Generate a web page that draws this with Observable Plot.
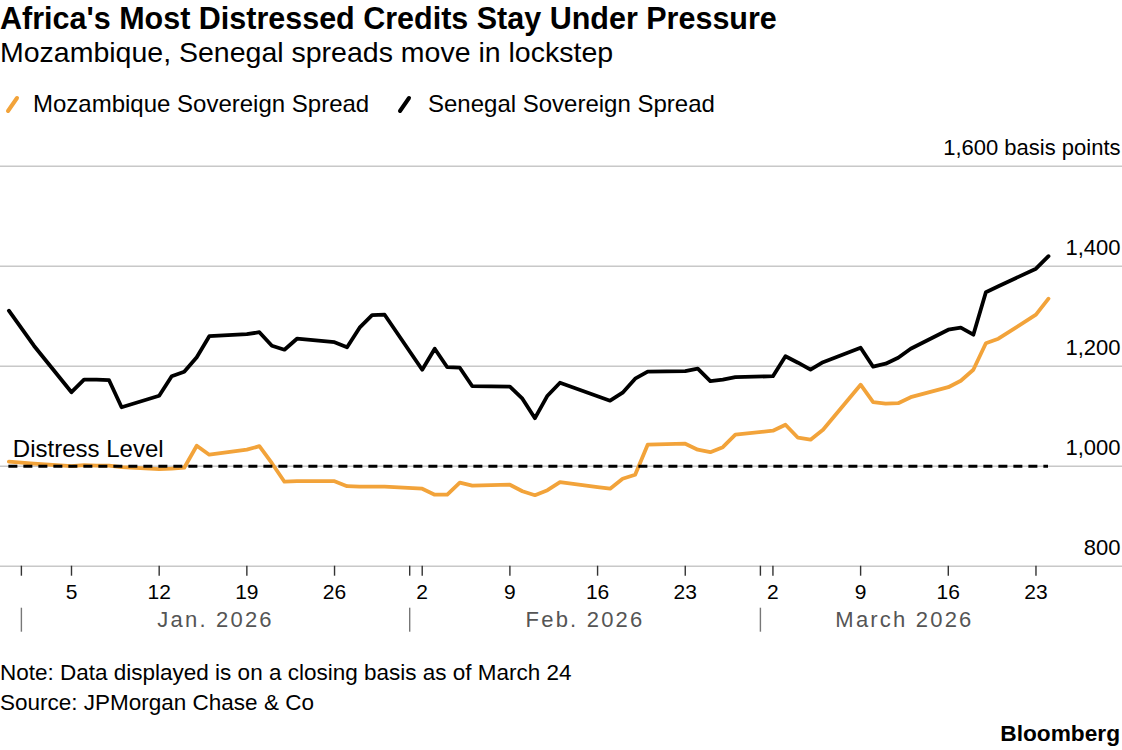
<!DOCTYPE html>
<html><head><meta charset="utf-8">
<script src="https://cdn.jsdelivr.net/npm/d3@7"></script>
<script src="https://cdn.jsdelivr.net/npm/@observablehq/plot@0.6"></script>
<style>
body{margin:0;background:#fff;font-family:"Liberation Sans",Arial,sans-serif;color:#000;}
#wrap{position:relative;width:1122px;height:750px;overflow:hidden;background:#fff;}
.t{position:absolute;white-space:nowrap;line-height:1;}
#title{left:0;top:3px;font-size:30.5px;font-weight:bold;}
#sub{left:0;top:38px;font-size:28.5px;}
.lg{top:92px;font-size:24px;}
.mk{position:absolute;top:95px;}
#note{left:0;top:662px;font-size:22.5px;}
#source{left:0;top:692px;font-size:22.5px;}
#brand{right:2px;top:722px;font-size:22.7px;font-weight:bold;}
#chart{position:absolute;left:0;top:130px;}
</style></head>
<body><div id="wrap">
<div class="t" id="title">Africa's Most Distressed Credits Stay Under Pressure</div>
<div class="t" id="sub">Mozambique, Senegal spreads move in lockstep</div>
<svg class="mk" style="left:5px" width="16" height="19"><line x1="3" y1="16" x2="12" y2="3" stroke="#f2a33a" stroke-width="4" stroke-linecap="round"/></svg>
<div class="t lg" style="left:33px">Mozambique Sovereign Spread</div>
<svg class="mk" style="left:397px" width="16" height="19"><line x1="3" y1="16" x2="12" y2="3" stroke="#000" stroke-width="4" stroke-linecap="round"/></svg>
<div class="t lg" style="left:428px">Senegal Sovereign Spread</div>
<div id="chart"></div>
<div class="t" id="note">Note: Data displayed is on a closing basis as of March 24</div>
<div class="t" id="source">Source: JPMorgan Chase &amp; Co</div>
<div class="t" id="brand">Bloomberg</div>
</div>
<script>
const dates = ["2025-12-31","2026-01-02","2026-01-05","2026-01-06","2026-01-07","2026-01-08","2026-01-09",
"2026-01-12","2026-01-13","2026-01-14","2026-01-15","2026-01-16","2026-01-19","2026-01-20","2026-01-21","2026-01-22","2026-01-23",
"2026-01-26","2026-01-27","2026-01-28","2026-01-29","2026-01-30","2026-02-02","2026-02-03","2026-02-04","2026-02-05","2026-02-06",
"2026-02-09","2026-02-10","2026-02-11","2026-02-12","2026-02-13","2026-02-16","2026-02-17","2026-02-18","2026-02-19","2026-02-20",
"2026-02-23","2026-02-24","2026-02-25","2026-02-26","2026-02-27","2026-03-02","2026-03-03","2026-03-04","2026-03-05","2026-03-06",
"2026-03-09","2026-03-10","2026-03-11","2026-03-12","2026-03-13","2026-03-16","2026-03-17","2026-03-18","2026-03-19","2026-03-20",
"2026-03-23","2026-03-24"];
const senegal = [1311,1241,1148,1173,1173,1172,1118,
1141,1180,1189,1218,1260,1264,1268,1241,1233,1255,
1248,1238,1277,1302,1303,1193,1235,1198,1197,1160,
1159,1135,1096,1141,1167,1140,1131,1147,1175,1189,
1190,1195,1170,1173,1178,1180,1220,1207,1193,1208,
1237,1199,1205,1217,1235,1273,1277,1263,1348,1360,
1395,1420];
const mozambique = [1009,1005,1000,1002,1001,1001,998,
994,995,997,1041,1023,1033,1040,1006,969,970,
970,960,959,959,959,955,943,943,967,961,
963,950,942,952,968,958,955,975,983,1043,
1045,1033,1028,1038,1063,1071,1083,1057,1053,1073,
1163,1128,1125,1126,1138,1158,1171,1193,1246,1255,
1303,1335];
const yTicks = [800,1000,1200,1400,1600];
const yTopLabel = "1,600 basis points";
const distressLevel = 1000;
const distressLabel = "Distress Level";
const monthLabels = ["Jan. 2026","Feb. 2026","March 2026"];

const parse = d3.utcParse("%Y-%m-%d");
const D = dates.map(parse);
const mozRows = D.map((d,i)=>({date:d, value:mozambique[i]}));
const senRows = D.map((d,i)=>({date:d, value:senegal[i]}));
const first = D[0], last = D[D.length-1];
const DAY = 864e5;
const xDomain = [new Date(+first - 0.668*DAY), new Date(+last + 5.908*DAY)];
const mondays = d3.utcMonday.range(d3.utcDay.offset(first,1), last);
const monthStarts = d3.utcMonth.range(first, last);
const months = monthStarts.map((m,i)=>({label:monthLabels[i], mid:new Date((+m + Math.min(+d3.utcMonth.offset(m,1), +last))/2)}));
const fmt = d3.format(",");

const chart = Plot.plot({
  width:1122, height:520,
  marginLeft:0, marginRight:0, marginTop:35.7, marginBottom:84.3,
  x:{type:"utc", domain:xDomain},
  y:{domain:[800,1600], axis:null},
  style:{fontFamily:"'Liberation Sans', Arial, sans-serif", fontSize:"21px", color:"#000", background:"#fff", overflow:"visible"},
  marks:[
    Plot.ruleY(yTicks, {y:d=>d, stroke:"#c8c8c8", strokeWidth:1.5}),
    Plot.text(yTicks, {y:d=>d, text:d=> d===1600 ? yTopLabel : fmt(d), frameAnchor:"right", textAnchor:"end", dx:-2, dy:-18, fontSize:22, fill:"#000"}),
    Plot.line(mozRows, {x:"date", y:"value", stroke:"#f2a33a", strokeWidth:3.8, strokeLinejoin:"round"}),
    Plot.line(senRows, {x:"date", y:"value", stroke:"#000", strokeWidth:3.8, strokeLinejoin:"round"}),
    Plot.ruleY([distressLevel], {y:d=>d, x1:()=>first, x2:()=>last, stroke:"#000", strokeWidth:3, strokeDasharray:"9,6"}),
    Plot.text([distressLevel], {x:()=>first, y:d=>d, text:()=>distressLabel, textAnchor:"start", dx:4, dy:-17, fontSize:24, fill:"#000"}),
    Plot.axisX({ticks:[...mondays, ...monthStarts], tickSize:10, tickPadding:8, tickFormat:d=> d.getUTCDay()===1 ? String(d.getUTCDate()) : "", fontSize:21, stroke:"#333", strokeWidth:1.4, fill:"#000", label:null}),
    Plot.axisX({ticks:monthStarts, tickSize:24, tickPadding:0, tickFormat:()=>"", dy:42, stroke:"#777", strokeWidth:1.4, label:null}),
    Plot.text(months, {x:"mid", text:"label", frameAnchor:"bottom", dy:61, fill:"#555", fontSize:22})
  ]
});
d3.select(chart).selectAll("text").filter(function(){ return monthLabels.includes(this.textContent); })
  .attr("letter-spacing", "2.2px");
document.getElementById("chart").appendChild(chart);
</script>
</body></html>
